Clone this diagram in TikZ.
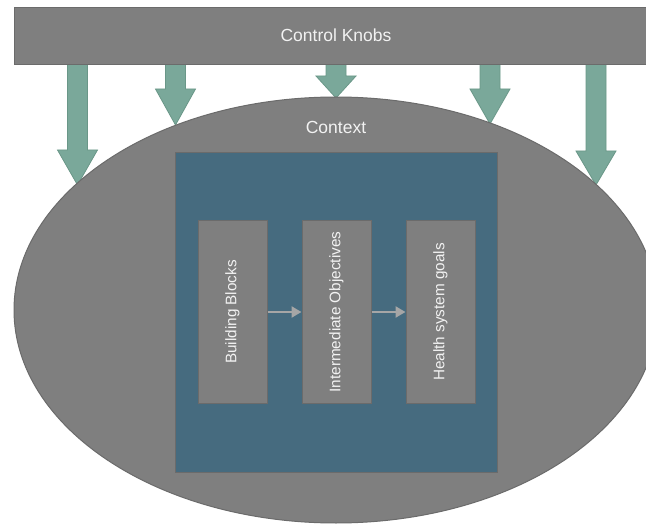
\documentclass[tikz,border=0pt]{standalone}
\usepackage{fontspec}
\setmainfont{Liberation Sans}
\usetikzlibrary{arrows.meta}
\definecolor{panelgray}{HTML}{7F7F7F}
\definecolor{edgegray}{HTML}{6B6B6B}
\definecolor{knobgreen}{HTML}{7AA89A}
\definecolor{knobedge}{HTML}{6A9788}
\definecolor{corebl}{HTML}{466B7F}
\definecolor{linkgray}{HTML}{A6A6A6}
\definecolor{labelwhite}{HTML}{F2F2F2}
\begin{document}
\begin{tikzpicture}[x=1pt,y=-1pt,
  panel/.style={fill=panelgray,draw=edgegray,line width=1pt},
  knob/.style={fill=knobgreen,draw=knobedge,line width=0.8pt,line join=miter},
  label/.style={text=labelwhite,font=\fontsize{17.5}{20}\selectfont},
  stage/.style={panel,minimum width=69pt,minimum height=182pt,inner sep=0pt},
  stagetext/.style={text=labelwhite,font=\fontsize{15.3}{17}\selectfont,rotate=90},
  link/.style={draw=linkgray,line width=2.6pt,-{Triangle[length=10pt,width=11pt]}}
]
\useasboundingbox (0,0) rectangle (646,524);
\fill[white] (0,0) rectangle (646,524);

% block arrows from the control bar down onto the context
\foreach \cx/\hs/\tp in {77.5/150/185, 175.5/89/125, 336/76/98, 490/89/124, 596/151/185}{
  \draw[knob] (\cx-10,60) -- (\cx-10,\hs) -- (\cx-20,\hs) -- (\cx,\tp)
    -- (\cx+20,\hs) -- (\cx+10,\hs) -- (\cx+10,60) -- cycle;
}

% control bar
\node[panel,minimum width=640pt,minimum height=57pt,inner sep=0pt,anchor=north west]
  (bar) at (14,7) {};
\node[label] (barlabel) at (336,35) {Control Knobs};

% context ellipse
\draw[panel] (336,310) ellipse [x radius=322, y radius=213];
\node[label] (ctx) at (336,127) {Context};

% health system core
\node[fill=corebl,draw=edgegray,line width=1pt,minimum width=322pt,minimum height=320pt,
  inner sep=0pt,anchor=north west] (core) at (175,152) {};

\node[stage] (bb) at (232.5,312) {};
\node[stage] (io) at (336.5,312) {};
\node[stage] (hg) at (440.5,312) {};
\node[stagetext] at (bb) {Building Blocks};
\node[stagetext] at (io) {Intermediate Objectives};
\node[stagetext] at (hg) {Health system goals};

\draw[link] (bb.east) -- (io.west);
\draw[link] (io.east) -- (hg.west);
\end{tikzpicture}
\end{document}
